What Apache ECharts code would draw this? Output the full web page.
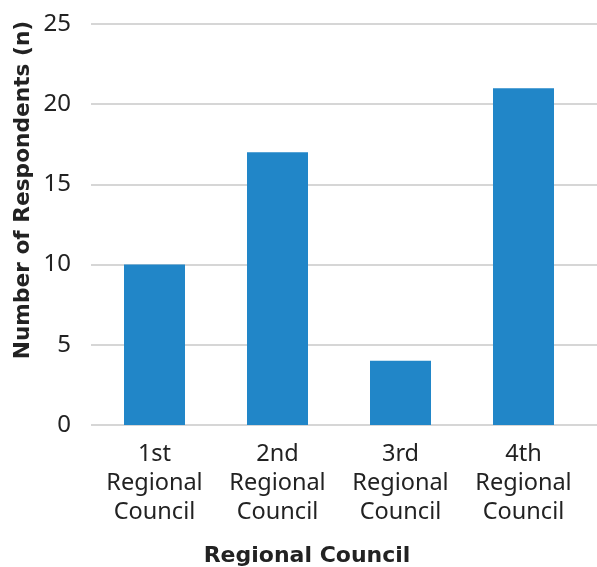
<!DOCTYPE html>
<html>
<head>
<meta charset="utf-8">
<script src="https://cdn.jsdelivr.net/npm/echarts@6/dist/echarts.min.js"></script>
<style>
  html, body { margin: 0; padding: 0; background: #ffffff; }
  #chart { width: 597px; height: 567px; }
</style>
</head>
<body>
<div id="chart"></div>
<script>
// Respondents per regional council
var categories = ['1st\nRegional\nCouncil', '2nd\nRegional\nCouncil', '3rd\nRegional\nCouncil', '4th\nRegional\nCouncil'];
var respondents = [10, 17, 4, 21];
var yTicks = [0, 5, 10, 15, 20, 25];

var FONT = '"Noto Sans", "DejaVu Sans", sans-serif';
var TITLE_FONT = '"DejaVu Sans", "Noto Sans", sans-serif';
var TEXT = '#222222';

var chart = echarts.init(document.getElementById('chart'), null, { renderer: 'canvas' });

chart.setOption({
  animation: false,
  backgroundColor: '#ffffff',
  grid: [
    // bars
    { left: 93, right: 12, top: 24, bottom: 142 },
    // horizontal gridlines spanning the full plot width
    { left: 91, right: 0, top: 24, bottom: 142 }
  ],
  xAxis: [
    {
      type: 'category',
      gridIndex: 0,
      data: categories,
      axisLine: { show: false },
      axisTick: { show: false },
      axisLabel: {
        margin: 15,
        fontFamily: FONT,
        fontSize: 23.5,
        lineHeight: 29,
        color: TEXT,
        interval: 0
      }
    },
    { type: 'value', gridIndex: 1, show: false, min: 0, max: 1 }
  ],
  yAxis: [
    {
      type: 'value',
      gridIndex: 0,
      min: yTicks[0],
      max: yTicks[yTicks.length - 1],
      interval: yTicks[1] - yTicks[0],
      axisLine: { show: false },
      axisTick: { show: false },
      splitLine: { show: false },
      axisLabel: {
        margin: 22,
        fontFamily: FONT,
        fontSize: 24,
        color: TEXT
      }
    },
    {
      type: 'value',
      gridIndex: 1,
      min: yTicks[0],
      max: yTicks[yTicks.length - 1],
      interval: yTicks[1] - yTicks[0],
      axisLine: { show: false },
      axisTick: { show: false },
      axisLabel: { show: false },
      splitLine: { show: true, lineStyle: { color: '#c9c9c9', width: 1.5 } }
    }
  ],
  series: [
    {
      type: 'bar',
      xAxisIndex: 0,
      yAxisIndex: 0,
      data: respondents,
      barWidth: 61,
      z: 3,
      itemStyle: { color: '#2186c8' }
    }
  ],
  graphic: [
    {
      type: 'text',
      x: 23,
      y: 190,
      rotation: Math.PI / 2,
      style: {
        text: 'Number of Respondents (n)',
        fontFamily: TITLE_FONT,
        fontWeight: 'bold',
        fontSize: 21.7,
        fill: TEXT,
        align: 'center',
        verticalAlign: 'middle'
      }
    },
    {
      type: 'text',
      x: 307,
      y: 556,
      style: {
        text: 'Regional Council',
        fontFamily: TITLE_FONT,
        fontWeight: 'bold',
        fontSize: 22,
        fill: TEXT,
        align: 'center',
        verticalAlign: 'middle'
      }
    }
  ]
});
</script>
</body>
</html>
